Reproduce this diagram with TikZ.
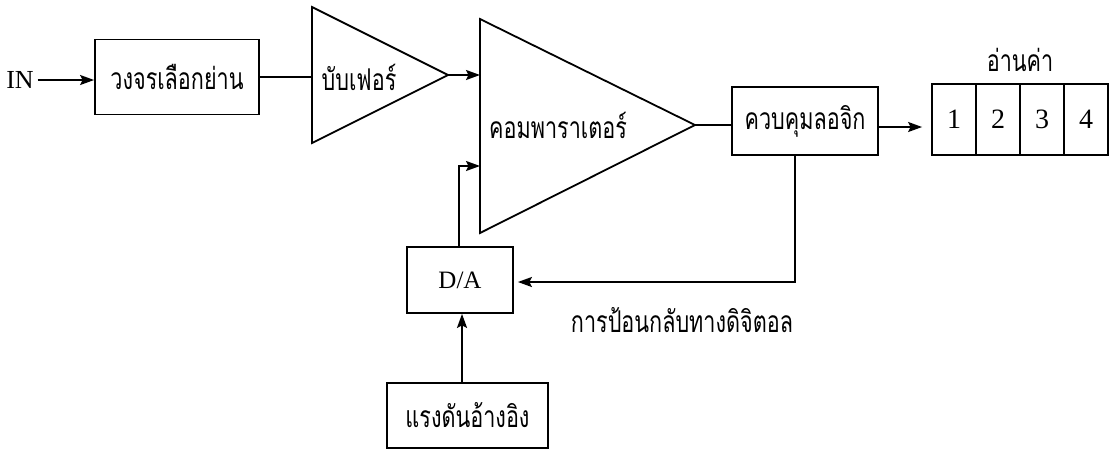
\documentclass[tikz,border=0pt]{standalone}
\usepackage{fontspec}
\setmainfont{Liberation Serif}
\newfontfamily\thaifont[Script=Thai,FakeStretch=0.72]{Loma}
\usetikzlibrary{arrows.meta}

\begin{document}
\begin{tikzpicture}[x=1pt, y=-1pt, line width=1.8pt,
  blk/.style={draw, inner sep=0pt, font=\thaifont\fontsize{30}{34}\selectfont},
  cell/.style={draw, inner sep=0pt, minimum width=44pt, minimum height=71pt, font=\fontsize{28}{30}\selectfont},
  lbl/.style={inner sep=0pt, font=\thaifont\fontsize{30}{34}\selectfont},
  arr/.style={-{Stealth[length=14pt,width=10pt,inset=2.5pt]}}]
\useasboundingbox (0,0) rectangle (1110,451);
\node[inner sep=0pt, font=\fontsize{26}{28}\selectfont] (in) at (20,80) {IN};
\node[blk, minimum width=164pt, minimum height=75pt] (sel) at (177,77) {วงจรเลือกย่าน};
\draw (312,7) coordinate (bufa) -- (312,143) coordinate (bufb) -- (448,75) coordinate (buftip) -- cycle;
\node[lbl] (buftxt) at (359,77) {บับเฟอร์};
\draw (480,19) coordinate (cmpa) -- (480,233) coordinate (cmpb) -- (695,125) coordinate (cmptip) -- cycle;
\node[lbl] (cmptxt) at (558,125) {คอมพาราเตอร์};
\coordinate (cmpin1) at (480,75);
\coordinate (cmpin2) at (480,166);
\node[blk, minimum width=146pt, minimum height=68pt] (logic) at (805,121) {ควบคุมลอจิก};
\node[cell] (r1) at (954,119.5) {1};
\node[cell] (r2) at (998,119.5) {2};
\node[cell] (r3) at (1042,119.5) {3};
\node[cell] (r4) at (1086,119.5) {4};
\node[lbl] (read) at (1020,60) {อ่านค่า};
\node[blk, minimum width=106pt, minimum height=66pt, font=\fontsize{25}{28}\selectfont] (da) at (460,280) {D/A};
\node[blk, minimum width=161pt, minimum height=65pt] (vref) at (467.5,415.5) {แรงดันอ้างอิง};
\node[lbl] (fbtxt) at (682,320) {การป้อนกลับทางดิจิตอล};
\coordinate (fbdown) at (795,282);
\draw[arr, shorten <=3pt] (in.east) -- (sel.west |- in.east);
\draw (sel.east) -- (bufa |- sel.east);
\draw[arr] (buftip) -- (cmpin1);
\draw (cmptip) -- (logic.west |- cmptip);
\draw[arr, shorten >=9pt] (logic.east |- 0,127) -- (r1.west |- 0,127);
\draw[arr, shorten >=4pt] (logic.south -| fbdown) -- (fbdown) -- (da.east |- fbdown);
\draw[arr] (da.north -| 459,0) |- (cmpin2);
\draw[arr] (vref.north -| 462,0) -- (da.south -| 462,0);
\end{tikzpicture}
\end{document}
